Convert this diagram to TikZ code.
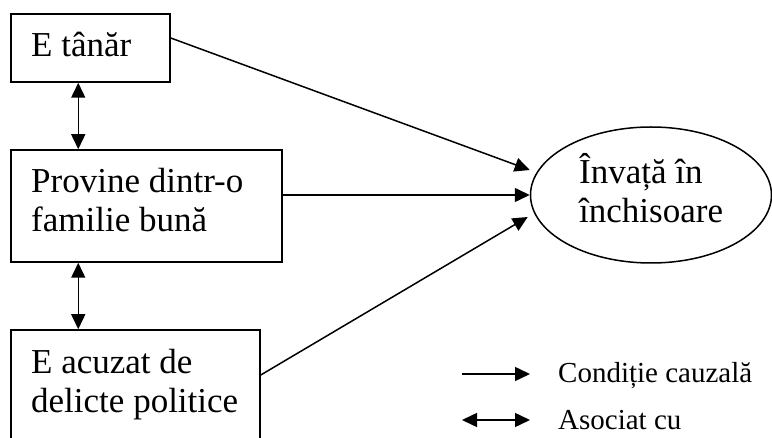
\documentclass[tikz,border=0pt]{standalone}
\usepackage{fontspec}
\setmainfont{Liberation Serif}
\usetikzlibrary{arrows.meta,shapes.geometric}
\begin{document}
\begin{tikzpicture}[x=1pt,y=-1pt,
  box/.style={draw,line width=1.5pt,rectangle,inner sep=0pt},
  oval/.style={draw,line width=1.5pt,ellipse,inner sep=0pt},
  txt/.style={anchor=base west,inner sep=0pt,align=left,font=\fontsize{35}{39.5}\selectfont},
  legtxt/.style={anchor=base west,inner sep=0pt,font=\fontsize{29}{34}\selectfont},
  cause/.style={line width=1.5pt,-{Triangle[length=15pt,width=14pt]}},
  assoc/.style={line width=1.5pt,{Triangle[length=15pt,width=14pt]}-{Triangle[length=15pt,width=14pt]}}]
\useasboundingbox (0,0) rectangle (772,438);
\clip (0,0) rectangle (772,438);
% boxes
\node[box,minimum width=159pt,minimum height=68pt] (b1) at (90.5,48) {};
\node[box,minimum width=271pt,minimum height=112pt] (b2) at (146.5,206) {};
\node[box,minimum width=249pt,minimum height=113pt] (b3) at (135.5,386.5) {};
\node[oval,minimum width=241pt,minimum height=136pt] (e) at (651,195) {};
% texts (base anchor = baseline of last line)
\node[txt] (t1) at (31,57) {E tânăr};
\node[txt] (t2) at (31,232) {Provine dintr-o\\familie bună};
\node[txt] (t3) at (31,413) {E acuzat de\\delicte politice};
\node[txt] (te) at (579,223) {Învață în\\închisoare};
% associations
\draw[assoc] ([xshift=68pt]b1.south west) -- ([xshift=68pt]b2.north west);
\draw[assoc] ([xshift=68pt]b2.south west) -- ([xshift=68pt]b3.north west);
% causal
\draw[cause] ([yshift=10pt]b1.east) -- ([yshift=25pt]e.west);
\draw[cause] ([yshift=11pt]b2.east) -- (e.west);
\draw[cause] ([yshift=11.5pt]b3.east) -- ([xshift=-2pt,yshift=-22pt]e.west);
% legend
\coordinate (l1a) at (462,374);
\coordinate (l1b) at (530,374);
\coordinate (l2a) at (462,420);
\coordinate (l2b) at (530,420);
\draw[cause] (l1a) -- (l1b);
\draw[assoc] (l2a) -- (l2b);
\node[legtxt] (lt1) at (558,383) {Condiție cauzală};
\node[legtxt] (lt2) at (558,430) {Asociat cu};
\end{tikzpicture}
\end{document}
